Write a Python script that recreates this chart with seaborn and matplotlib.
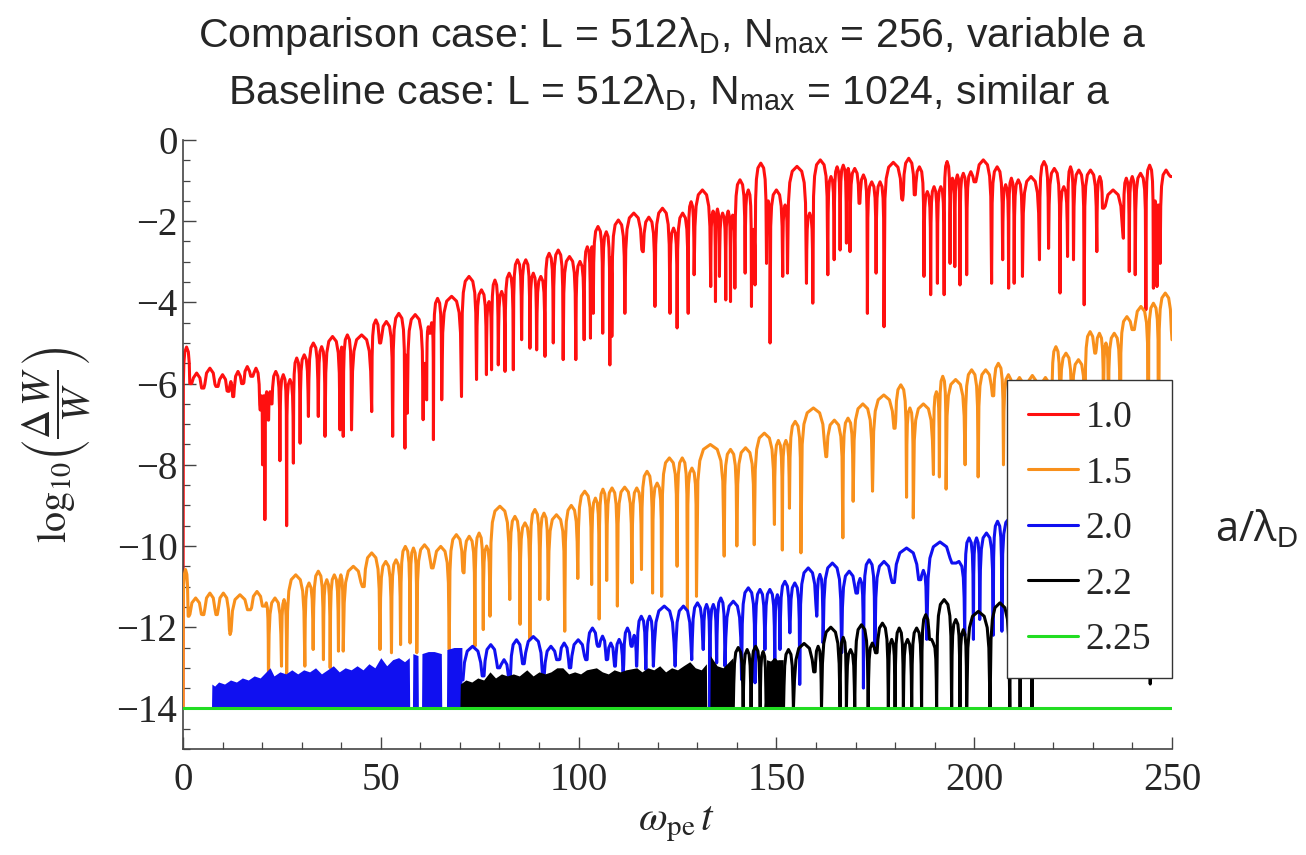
import matplotlib
matplotlib.use("Agg")
import matplotlib.pyplot as plt
import seaborn as sns
from matplotlib.ticker import MultipleLocator
from matplotlib.lines import Line2D
from matplotlib.font_manager import FontProperties

# ---------------- data ----------------
series_labels = ["1.0", "1.5", "2.0", "2.2", "2.25"]

# a/lambda_D = 1.0 : dips (time, value) and arch top that follows each dip
red_dip_t = [0.0, 1.8, 5.1, 8.5, 11.5, 12.7, 15.1, 17.4, 19.5, 20.1, 20.7, 21.6, 22.4, 24.5, 26.2,
             27.9, 29.6, 31.7, 34.2, 35.9, 39.7, 40.5, 42.6, 47.7, 49.8, 53.0, 56.1, 56.7, 60.7,
             61.6, 62.4, 63.3, 65.4, 70.4, 74.2, 76.7, 78.0, 79.7, 81.4, 83.5, 85.6, 87.7, 89.4,
             91.5, 93.6, 96.1, 99.3, 101.4, 103.0, 103.7, 106.1, 107.9, 108.4, 111.7, 116.2, 119.3,
             123.1, 124.9, 127.7, 129.2, 133.4, 134.6, 135.6, 137.2, 138.4, 139.5, 142.1, 143.7,
             144.6, 147.5, 148.4, 151.6, 152.8, 157.6, 159.2, 163.0, 164.6, 166.1, 167.7, 168.6,
             171.0, 173.0, 175.2, 177.2, 181.9, 185.0, 187.3, 189.0, 190.7, 192.4, 193.9, 195.1,
             196.4, 198.1, 200.2, 204.4, 207.2, 208.7, 210.1, 212.2, 216.5, 218.8, 221.7, 223.6,
             225.1, 227.8, 231.0, 232.5, 237.7, 239.2, 240.7, 243.4, 245.3, 246.2, 247.0, 250.0]
red_dip_y = [-14.0, -6.0, -6.11, -6.07, -6.19, -6.32, -6.0, -5.82, -6.65, -8.0, -9.35, -6.9, -6.5, -7.9, -9.5,
             -7.96, -7.47, -6.81, -6.81, -7.3, -7.14, -7.3, -7.14, -6.69, -5.0, -7.3, -7.59, -6.73, -6.89,
             -6.4, -4.76, -7.38, -6.4, -6.32, -5.9, -5.78, -5.66, -5.54, -5.7, -5.66, -4.92, -5.13, -5.17,
             -5.33, -5.0, -5.41, -5.41, -4.92, -4.88, -4.27, -4.76, -5.54, -4.84, -4.27, -2.75, -4.1,
             -4.27, -4.63, -4.27, -3.32, -3.61, -3.98, -3.36, -3.94, -3.98, -3.65, -3.28, -4.1,
             -3.57, -3.04, -5.0, -3.36, -3.28, -3.53, -4.02, -3.32, -2.95, -2.71, -2.54, -2.75,
             -1.56, -4.27, -3.28, -4.6, -1.48, -1.35, -3.36, -3.81, -3.53, -3.81, -3.04, -3.12,
             -3.57, -3.32, -1.03, -3.53, -2.95, -3.65, -3.53, -3.36, -2.95, -2.67, -3.77, -2.87,
             -2.95, -4.06, -2.75, -1.68, -2.42, -3.24, -3.32, -4.18, -3.65, -3.61, -3.04, -0.9]
red_top_y = [-5.1, -5.74, -5.62, -5.78, -5.95, -5.7, -5.58, -5.62, -6.3, -6.3, -6.2, -6.2, -5.7, -5.78, -5.9,
             -5.37, -5.29, -5.0, -5.09, -4.84, -5.1, -4.8, -4.8, -4.43, -4.47, -4.27, -5.3, -4.3, -5.5,
             -4.6, -4.5, -3.9, -3.85, -3.36, -3.69, -3.98, -3.45, -3.73, -3.28, -2.95, -2.95, -3.28, -3.36,
             -2.79, -2.71, -2.87, -2.99, -2.63, -2.63, -2.13, -2.26, -2.9, -1.97, -1.8, -1.9, -1.68,
             -2.17, -1.8, -1.52, -1.23, -1.75, -1.7, -1.8, -1.75, -1.85, -0.98, -1.23, -2.2,
             -0.57, -1.5, -1.23, -1.6, -0.65, -1.8, -0.49, -0.9, -0.66, -0.62, -0.7, -0.7,
             -0.86, -1.03, -1.03, -0.55, -0.45, -0.66, -1.27, -1.15, -1.15, -0.53, -0.94, -0.86,
             -0.82, -0.78, -0.49, -0.66, -1.1, -0.94, -0.98, -0.9, -0.53, -0.7, -1.15, -0.66,
             -0.74, -0.74, -0.9, -1.23, -0.94, -0.9, -0.82, -0.62, -1.5, -1.6, -0.74]

# a/lambda_D = 1.5
orange_dip_t = [0.0, 1.3, 5.1, 8.5, 11.9, 16.9, 20.5, 21.6, 24.9, 26.2, 30.8, 32.9, 35.5, 37.2, 39.3,
                40.5, 45.6, 49.8, 52.7, 55.0, 57.4, 59.1, 63.0, 67.3, 70.9, 73.8, 75.9, 77.6, 82.6,
                85.2, 87.7, 90.2, 92.3, 96.5, 99.8, 103.3, 105.2, 107.1, 109.8, 113.5, 115.9, 118.7,
                121.0, 124.9, 127.5, 129.8, 136.8, 140.0, 144.4, 149.5, 151.5, 153.3, 156.2, 162.5,
                166.8, 169.4, 174.3, 180.0, 182.9, 184.6, 189.7, 191.2, 192.9, 197.7, 201.0, 204.8,
                207.4, 209.9, 213.0, 216.4, 219.6, 221.7, 224.7, 228.0, 230.6, 232.7, 233.9, 236.9,
                240.3, 244.0, 246.6, 250.0]
orange_dip_y = [-14.0, -11.73, -11.69, -11.69, -12.18, -11.57, -11.48, -13.29, -12.96, -13.2, -12.96, -12.55,
                -12.8, -13.0, -12.59, -12.59, -11.0, -12.55, -12.63, -12.43, -12.39, -12.63, -10.54,
                -12.55, -10.66, -12.47, -12.06, -11.73, -11.32, -11.93, -12.31, -11.32, -11.32, -12.1,
                -10.8, -10.95, -11.8, -10.85, -11.48, -10.91, -10.58, -11.16, -11.24, -10.5, -11.57,
                -11.24, -10.25, -10.0, -9.97, -9.47, -10.1, -9.07, -10.17, -7.8, -9.8, -8.9, -8.65,
                -7.1, -8.8, -9.31, -8.24, -8.3, -8.6, -8.0, -8.3, -6.3, -8.0, -7.5, -8.2, -7.3, -8.5,
                -7.0, -8.8, -8.0, -5.25, -9.0, -8.0, -9.5, -4.67, -10.0, -9.0, -4.92]
orange_top_y = [-10.58, -11.28, -11.16, -11.16, -11.2, -11.12, -11.4, -11.28, -11.32, -10.71, -10.91,
                -10.62, -10.83, -10.71, -10.71, -10.5, -10.17, -10.38, -10.34, -10.01, -10.05, -9.97,
                -10.01, -9.72, -9.76, -9.68, -10.0, -9.02, -9.27, -9.43, -9.1, -9.19, -9.23, -9.0,
                -8.65, -8.82, -8.6, -8.57, -8.55, -8.57, -8.16, -8.45, -7.83, -7.83, -8.08, -7.5,
                -7.62, -7.58, -7.22, -7.4, -7.4, -6.93, -6.6, -6.9, -6.85, -6.5, -6.28, -6.03, -6.6,
                -6.5, -6.2, -5.82, -5.9, -5.66, -5.66, -5.5, -5.78, -5.85, -5.8, -5.85, -5.09, -5.25,
                -5.41, -4.72, -4.76, -5.0, -4.76, -4.35, -4.1, -4.02, -3.77]

# a/lambda_D = 2.0 : densely oscillating part (upper envelope), then arches
blue_fill_t = [7.2, 7.3, 8.0, 9.0, 10.5, 12.0, 13.5, 15.0, 16.5, 18.0, 19.5, 21.0, 22.0, 23.0, 24.5,
               26.0, 27.5, 29.0, 30.5, 32.0, 33.5, 35.0, 36.5, 38.0, 39.5, 41.0, 42.5, 44.0, 45.5,
               47.0, 48.5, 50.0, 51.5, 53.0, 54.5, 56.0, 57.2, 57.3, 58.0, 58.1, 59.4, 59.5, 60.3,
               60.4, 62.0, 63.5, 65.3, 65.4, 66.6, 66.7, 68.5, 70.5]
blue_fill_top = [-14.0, -13.4, -13.45, -13.35, -13.4, -13.3, -13.35, -13.25, -13.3, -13.2, -13.25, -13.1,
                 -13.0, -13.2, -13.1, -13.15, -13.05, -13.15, -13.05, -13.1, -13.0, -13.15, -13.05,
                 -12.95, -13.1, -13.0, -13.05, -12.95, -13.05, -12.9, -13.0, -12.75, -12.95, -12.8,
                 -12.75, -12.85, -12.75, -14.0, -14.0, -12.65, -12.7, -14.0, -14.0, -12.65, -12.6,
                 -12.6, -12.65, -14.0, -14.0, -12.55, -12.5, -12.5]
blue_dip_t = [70.5, 75.9, 79.7, 82.6, 86.0, 91.1, 94.9, 97.8, 102.0, 105.0, 107.1, 109.2, 111.3, 113.4,
              114.7, 117.0, 118.9, 124.4, 128.6, 131.5, 133.2, 134.9, 137.0, 141.2, 144.6, 147.1,
              149.6, 150.9, 153.4, 155.9, 160.2, 161.8, 166.5, 170.3, 172.0, 174.9, 179.5, 186.3,
              188.0, 194.7, 197.6, 199.8, 201.4, 204.8, 207.0, 211.0, 215.0, 220.0, 226.0, 232.0,
              238.0, 244.0, 250.0]
blue_dip_y = [-13.3, -13.2, -13.0, -13.2, -12.9, -13.2, -12.8, -13.0, -12.8, -12.47, -12.8, -12.96, -13.1,
              -12.47, -12.96, -13.04, -12.96, -12.96, -12.8, -12.55, -14.0, -12.88, -12.96, -13.29,
              -13.37, -12.55, -12.96, -12.55, -12.14, -13.41, -11.73, -12.39, -12.63, -11.16, -13.5,
              -12.55, -10.9, -10.83, -12.3, -10.42, -12.2, -12.3, -11.81, -12.2, -12.1, -10.5, -12.0,
              -11.0, -11.8, -10.8, -11.5, -11.0, -8.7]
blue_top_y = [-12.47, -12.43, -12.8, -12.31, -12.23, -12.47, -12.39, -12.31, -12.02, -12.22, -12.39,
              -12.3, -12.02, -12.2, -11.73, -11.73, -11.48, -11.48, -11.4, -11.44, -11.44, -11.28,
              -11.36, -11.03, -11.07, -11.07, -11.2, -10.87, -10.91, -10.54, -10.7, -10.42, -10.62,
              -10.8, -10.34, -10.38, -10.05, -10.6, -9.9, -10.38, -9.8, -9.8, -9.68, -9.39, -9.3,
              -9.2, -9.1, -9.0, -8.9, -8.8, -8.7, -8.6]

# a/lambda_D = 2.2 : dense parts (upper envelope), then arches
black_fill_t = [70.0, 70.1, 71.5, 73.0, 74.5, 76.0, 77.6, 79.0, 80.5, 82.0, 83.5, 85.0, 86.9, 88.5,
                90.0, 91.5, 93.0, 94.5, 96.0, 97.5, 99.0, 100.5, 102.0, 104.5, 106.0, 107.5, 109.0,
                110.5, 112.0, 114.7, 116.0, 117.5, 119.0, 120.5, 122.0, 123.5, 125.0, 126.5, 128.1,
                129.5, 131.0, 132.3, 132.4, 133.2, 133.3, 135.0, 136.5, 138.0, 139.0, 139.1, 147.4,
                147.5, 149.0, 150.5, 151.7, 151.8]
black_fill_top = [-14.0, -13.4, -13.3, -13.35, -13.25, -13.3, -13.1, -13.25, -13.15, -13.2, -13.15, -13.2,
                  -13.05, -13.2, -13.1, -13.15, -13.1, -13.0, -13.0, -13.15, -13.1, -13.15, -13.05,
                  -13.0, -13.1, -13.15, -13.05, -13.1, -13.05, -13.0, -13.1, -13.0, -13.05, -12.95,
                  -13.1, -13.0, -13.05, -12.95, -12.85, -13.0, -13.05, -12.9, -14.0, -14.0, -12.7,
                  -12.95, -13.0, -12.85, -12.75, -14.0, -14.0, -12.8, -12.85, -12.8, -12.8, -14.0]
black_dip_t = [139.1, 141.6, 143.6, 145.9, 147.4, 151.8, 154.3, 159.7, 161.4, 166.1, 167.7, 169.8, 173.2,
               175.3, 178.3, 180.0, 182.1, 184.2, 186.7, 188.8, 190.5, 194.3, 196.4, 198.1, 204.0,
               209.0, 211.6, 214.6, 220.0, 226.0, 232.0, 238.0, 244.5, 250.0]
black_dip_y = [-14.0, -14.0, -14.0, -14.0, -14.0, -14.0, -14.0, -13.1, -14.0, -14.0, -14.0, -14.0, -14.0,
               -12.63, -14.0, -14.0, -14.0, -14.0, -14.0, -12.3, -14.0, -14.0, -14.0, -14.0, -14.0,
               -14.0, -14.0, -14.0, -13.0, -12.8, -13.0, -12.9, -13.4, -11.0]
black_top_y = [-12.5, -12.55, -12.47, -12.6, -12.8, -12.55, -12.4, -12.47, -12.0, -12.25, -12.55, -11.94,
               -12.39, -11.9, -12.3, -12.02, -12.3, -12.02, -11.69, -12.39, -11.32, -11.81, -12.06,
               -11.61, -11.4, -11.4, -11.4, -11.3, -11.2, -11.0, -11.1, -10.9, -10.8]

# a/lambda_D = 2.25 : flat at the floor
green_t = [0.0, 250.0]
green_y = [-14.0, -14.0]

COLORS = ["#FF1010", "#F8901C", "#1010F0", "#000000", "#22DD22"]

# drawing style of one arch: (fraction of arch width, drop below arch top)
ARCH_SHAPE = [(0.05, -0.9), (0.12, -0.4), (0.25, -0.12), (0.5, 0.0),
              (0.75, -0.12), (0.88, -0.4), (0.95, -0.9)]


def arch_path(dip_t, dip_y, top_y):
    """Line through each dip with a rounded arch up to the top that follows it."""
    ts, ys = [], []
    for i in range(len(dip_t) - 1):
        t0, t1 = dip_t[i], dip_t[i + 1]
        ts.append(t0)
        ys.append(dip_y[i])
        for f, drop in ARCH_SHAPE:
            floor = dip_y[i] if f < 0.5 else dip_y[i + 1]
            ts.append(t0 + f * (t1 - t0))
            ys.append(max(top_y[i] + drop, floor))
    ts.append(dip_t[-1])
    ys.append(dip_y[-1])
    return ts, ys


# ---------------- styling ----------------
sns.set_style("ticks")
plt.rcParams["font.family"] = ["Liberation Serif", "DejaVu Serif"]
plt.rcParams["mathtext.fontset"] = "custom"
plt.rcParams["mathtext.rm"] = "Liberation Sans"
plt.rcParams["mathtext.it"] = "Liberation Sans:italic"
plt.rcParams["axes.unicode_minus"] = True

W, H = 1306, 855
fig = plt.figure(figsize=(W / 100, H / 100), dpi=100)
ax = fig.add_axes([183 / W, 106 / H, 989 / W, 609 / H])

lw = 2.2
rt, ry = arch_path(red_dip_t, red_dip_y, red_top_y)
sns.lineplot(x=rt, y=ry, ax=ax, color=COLORS[0], lw=lw, sort=False, estimator=None, zorder=2)
ot, oy = arch_path(orange_dip_t, orange_dip_y, orange_top_y)
sns.lineplot(x=ot, y=oy, ax=ax, color=COLORS[1], lw=lw, sort=False, estimator=None, zorder=3)

ax.fill_between(blue_fill_t, -14.0, blue_fill_top, color=COLORS[2], lw=0, zorder=4)
bt, by = arch_path(blue_dip_t, blue_dip_y, blue_top_y)
sns.lineplot(x=bt, y=by, ax=ax, color=COLORS[2], lw=lw, sort=False, estimator=None, zorder=4)

ax.fill_between(black_fill_t, -14.0, black_fill_top, color=COLORS[3], lw=0, zorder=5)
kt, ky = arch_path(black_dip_t, black_dip_y, black_top_y)
sns.lineplot(x=kt, y=ky, ax=ax, color=COLORS[3], lw=lw, sort=False, estimator=None, zorder=5)

sns.lineplot(x=green_t, y=green_y, ax=ax, color=COLORS[4], lw=lw, sort=False, estimator=None, zorder=6)

ax.set_xlim(0, 250)
ax.set_ylim(-15, 0)
ax.xaxis.set_major_locator(MultipleLocator(50))
ax.xaxis.set_minor_locator(MultipleLocator(10))
ax.yaxis.set_major_locator(MultipleLocator(2))
ax.yaxis.set_minor_locator(MultipleLocator(0.5))
ax.set_xlabel("")
ax.set_ylabel("")

for side in ["top", "right"]:
    ax.spines[side].set_visible(False)
for side in ["left", "bottom"]:
    ax.spines[side].set_color("#444444")
    ax.spines[side].set_linewidth(1.2)
ax.tick_params(which="major", direction="in", length=9, width=1.0, color="#444444",
               labelsize=28, pad=4)
ax.tick_params(which="minor", direction="in", length=5, width=0.9, color="#444444")
ax.tick_params(axis="x", which="major", pad=9)

handles = [Line2D([], [], color=c, lw=lw) for c in COLORS]
leg = ax.legend(handles, series_labels, loc="upper right", bbox_to_anchor=(1.0, 0.606),
                frameon=True, fancybox=False, framealpha=1, edgecolor="#333333",
                prop=FontProperties(family="Liberation Serif", size=27),
                handlelength=1.35, handletextpad=0.2, labelspacing=0.56,
                borderpad=0.55, borderaxespad=0)
leg.get_frame().set_linewidth(1.0)
leg.set_zorder(10)

# axis labels
fig.text(57 / W, 1 - 445 / H, r"$\log_{10}\!\left(\dfrac{\Delta\, W}{W}\right)$", rotation=90,
         ha="center", va="center", fontsize=29, math_fontfamily="stix")
fig.text(677 / W, 1 - 824 / H, r"$\omega_{\mathrm{pe}}\, t$", ha="center", va="center",
         fontsize=30, math_fontfamily="stix")

# titles
fig.text(672 / W, 1 - 47 / H,
         r"Comparison case: L = 512λ$_\mathrm{D}$, N$_\mathrm{max}$ = 256, variable a",
         ha="center", va="baseline", fontsize=29.5, family="Liberation Sans")
fig.text(669 / W, 1 - 104 / H,
         r"Baseline case: L = 512λ$_\mathrm{D}$, N$_\mathrm{max}$ = 1024, similar a",
         ha="center", va="baseline", fontsize=29.5, family="Liberation Sans")

# right-hand legend title
fig.text(1215 / W, 1 - 541 / H, r"a/λ$_\mathrm{D}$", ha="left", va="baseline",
         fontsize=30, family=["Open Sans", "DejaVu Sans"])

fig.savefig("out.png", dpi=100)
